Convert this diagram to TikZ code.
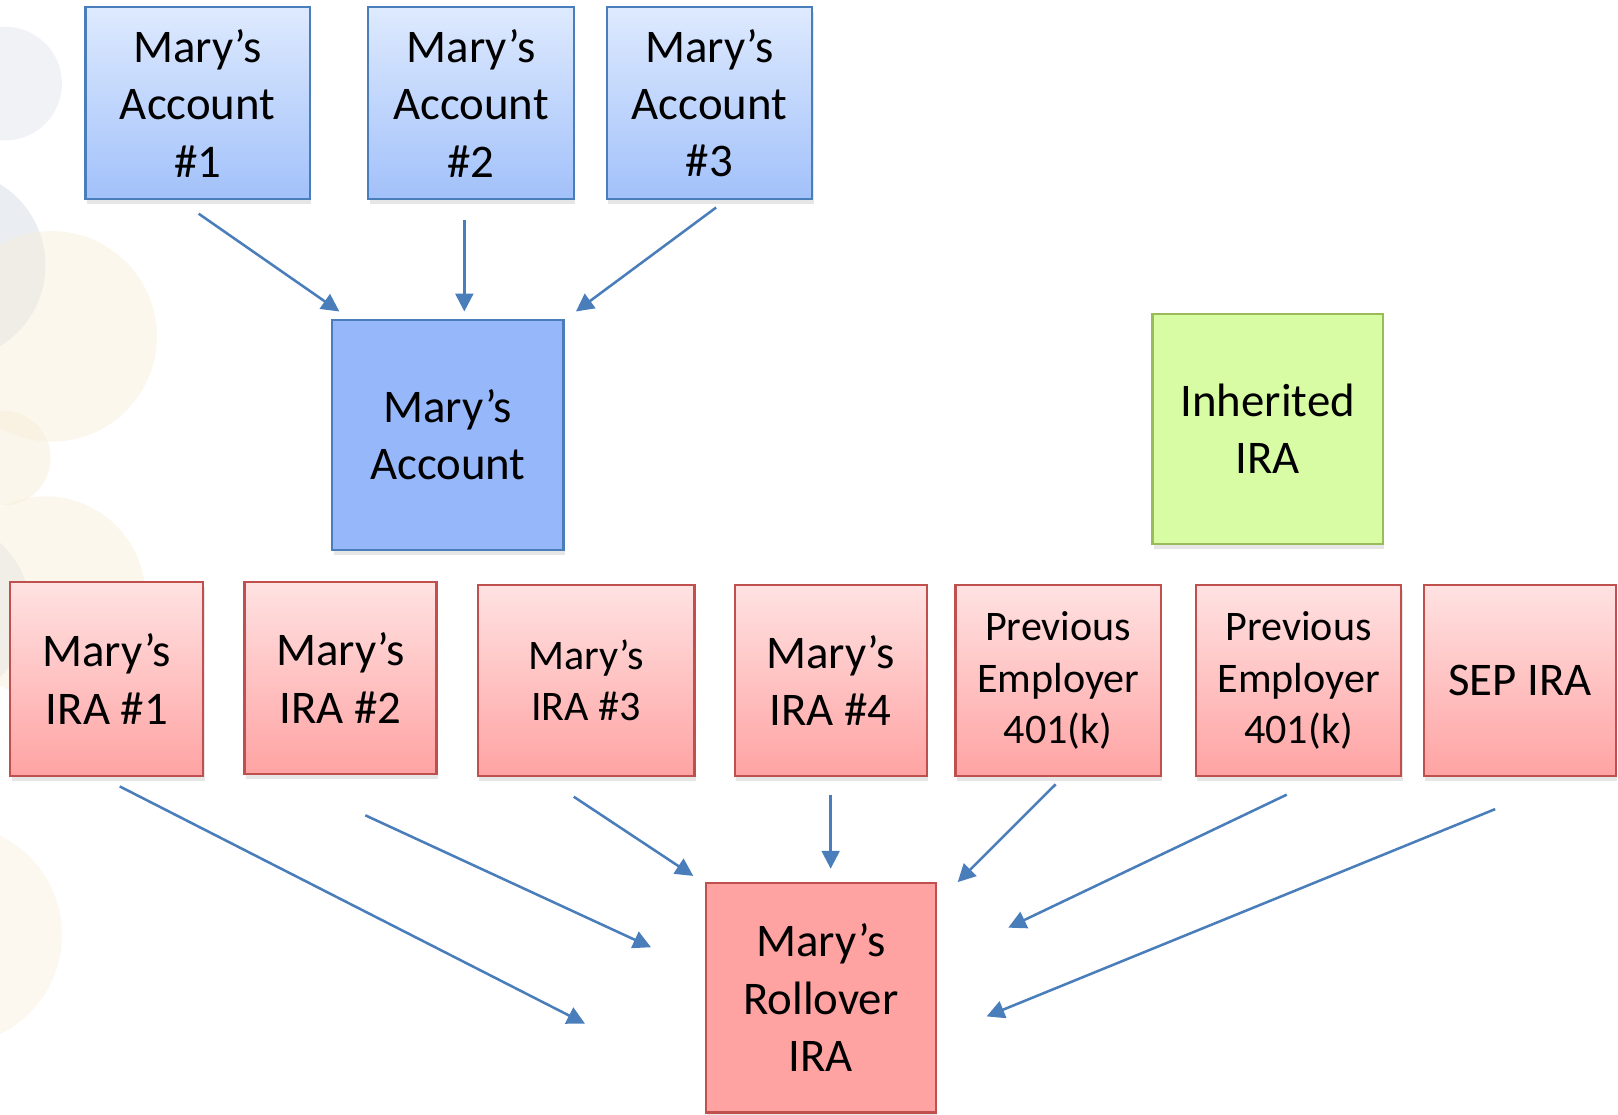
\documentclass[tikz,border=0pt]{standalone}
\usepackage{fontspec}
\setmainfont{Carlito}
\usetikzlibrary{arrows.meta, shadows, calc}

\definecolor{acctline}{HTML}{4A7EBB}
\definecolor{acctTop}{HTML}{DEEAFE}
\definecolor{acctBot}{HTML}{A2C1FA}
\definecolor{acctFill}{HTML}{96B8FA}
\definecolor{iraline}{HTML}{C0504D}
\definecolor{iraTop}{HTML}{FFE2E2}
\definecolor{iraBot}{HTML}{FFA3A3}
\definecolor{iraFill}{HTML}{FFA2A2}
\definecolor{inhline}{HTML}{9BBB59}
\definecolor{inhFill}{HTML}{D7FCA3}
\definecolor{arrowblue}{HTML}{4A7EBB}
\definecolor{bggray}{HTML}{D9DFE8}
\definecolor{bgcream}{HTML}{F7EDD8}

\tikzstyle{box} = [rectangle, inner sep=0pt, align=center, line width=0.6pt, text=black, drop shadow={shadow xshift=0.4pt, shadow yshift=-1.3pt, opacity=0.2}]
\tikzstyle{bigtext} = [font=\fontsize{12.9}{15.8}\selectfont]
\tikzstyle{smalltext} = [font=\fontsize{11.6}{14.1}\selectfont]
\tikzstyle{account} = [box, bigtext, draw=acctline, top color=acctTop, bottom color=acctBot, minimum height=1.86cm]
\tikzstyle{merged} = [box, bigtext, draw=acctline, fill=acctFill, minimum width=2.24cm, minimum height=2.23cm]
\tikzstyle{ira} = [box, bigtext, draw=iraline, top color=iraTop, bottom color=iraBot, minimum height=1.86cm]
\tikzstyle{rollover} = [box, bigtext, draw=iraline, fill=iraFill, minimum width=2.23cm, minimum height=2.22cm]
\tikzstyle{inherited} = [box, bigtext, draw=inhline, fill=inhFill, minimum width=2.23cm, minimum height=2.23cm]
\tikzstyle{arrow} = [line width=0.7pt, draw=arrowblue, -{Triangle[length=4.9pt, width=4.9pt]}]

\begin{document}
\begin{tikzpicture}[x=0.01cm, y=-0.01cm]

    \useasboundingbox (0,0) rectangle (1568,1080);

    % faint background circles
    \begin{scope}
        \clip (0,0) rectangle (1568,1080);
        \fill [bggray, opacity=0.4] (5,81) circle [radius=0.55cm];
        \fill [bggray, opacity=0.55] (-48,257) circle [radius=0.92cm];
        \fill [bgcream, opacity=0.45] (50,326) circle [radius=1.02cm];
        \fill [bgcream, opacity=0.5] (3,444) circle [radius=0.46cm];
        \fill [bggray, opacity=0.5] (-58,591) circle [radius=0.87cm];
        \fill [bgcream, opacity=0.45] (44,578) circle [radius=0.97cm];
        \fill [bgcream, opacity=0.4] (-47,906) circle [radius=1.07cm];
    \end{scope}

    \node (acc1) [account, minimum width=2.17cm] at (191.5,100) {Mary’s\\Account\\\#1};
    \node (acc2) [account, minimum width=1.99cm] at (456.5,100) {Mary’s\\Account\\\#2};
    \node (acc3) [account, minimum width=1.99cm] at (687.5,100) {Mary’s\\Account\\\#3};
    \node (acct) [merged] at (434,421.5) {Mary’s\\Account};
    \node (inh) [inherited] at (1228.5,415.5) {Inherited\\IRA};

    \node (ira1) [ira, minimum width=1.87cm, minimum height=1.88cm] at (103.5,658) {Mary’s\\IRA \#1};
    \node (ira2) [ira, minimum width=1.86cm] at (330,657) {Mary’s\\IRA \#2};
    \node (ira3) [ira, smalltext, minimum width=2.10cm, minimum height=1.85cm] at (568,659.5) {Mary’s\\IRA \#3};
    \node (ira4) [ira, minimum width=1.86cm, minimum height=1.85cm] at (805,659.5) {Mary’s\\IRA \#4};
    \node (pe1) [ira, smalltext, minimum width=1.99cm, minimum height=1.85cm] at (1025.5,659.5) {Previous\\Employer\\401(k)};
    \node (pe2) [ira, smalltext, minimum width=1.99cm, minimum height=1.85cm] at (1258.5,659.5) {Previous\\Employer\\401(k)};
    \node (sep) [ira, minimum width=1.86cm, minimum height=1.85cm] at (1473,659.5) {SEP IRA};

    \node (roll) [rollover] at (795.5,967) {Mary’s\\Rollover\\IRA};

    % free arrow ends near the boxes
    \coordinate (a1s) at ($(acc1.south)+(1,13)$);
    \coordinate (a1e) at ($(acct.north west)+(8,-7)$);
    \coordinate (a2s) at ($(acc2.south)+(-6.5,19)$);
    \coordinate (a2e) at ($(acct.north)+(16,-7)$);
    \coordinate (a3s) at ($(acc3.south)+(6.5,7)$);
    \coordinate (a3e) at ($(acct.north east)+(11,-7)$);

    \coordinate (b1s) at ($(ira1.south)+(12.5,9)$);
    \coordinate (b1e) at ($(roll.west)+(-116,25)$);
    \coordinate (b2s) at ($(ira2.south)+(24,39)$);
    \coordinate (b2e) at ($(roll.west)+(-52,-49)$);
    \coordinate (b3s) at ($(ira3.south)+(-12,19)$);
    \coordinate (b3e) at ($(roll.north west)+(-11,-6)$);
    \coordinate (b4s) at ($(ira4.south)+(0,17)$);
    \coordinate (b4e) at ($(roll.north)+(9.5,-13)$);
    \coordinate (b5s) at ($(pe1.south)+(-2.5,7)$);
    \coordinate (b5e) at ($(roll.north east)+(20,0)$);
    \coordinate (b6s) at ($(pe2.south)+(-11.5,17)$);
    \coordinate (b6e) at ($(roll.east)+(69,-68)$);
    \coordinate (b7s) at ($(sep.south)+(-24,31)$);
    \coordinate (b7e) at ($(roll.east)+(48,18)$);

    \draw [arrow] (a1s) -- (a1e);
    \draw [arrow] (a2s) -- (a2e);
    \draw [arrow] (a3s) -- (a3e);

    \draw [arrow] (b1s) -- (b1e);
    \draw [arrow] (b2s) -- (b2e);
    \draw [arrow] (b3s) -- (b3e);
    \draw [arrow] (b4s) -- (b4e);
    \draw [arrow] (b5s) -- (b5e);
    \draw [arrow] (b6s) -- (b6e);
    \draw [arrow] (b7s) -- (b7e);

\end{tikzpicture}
\end{document}
